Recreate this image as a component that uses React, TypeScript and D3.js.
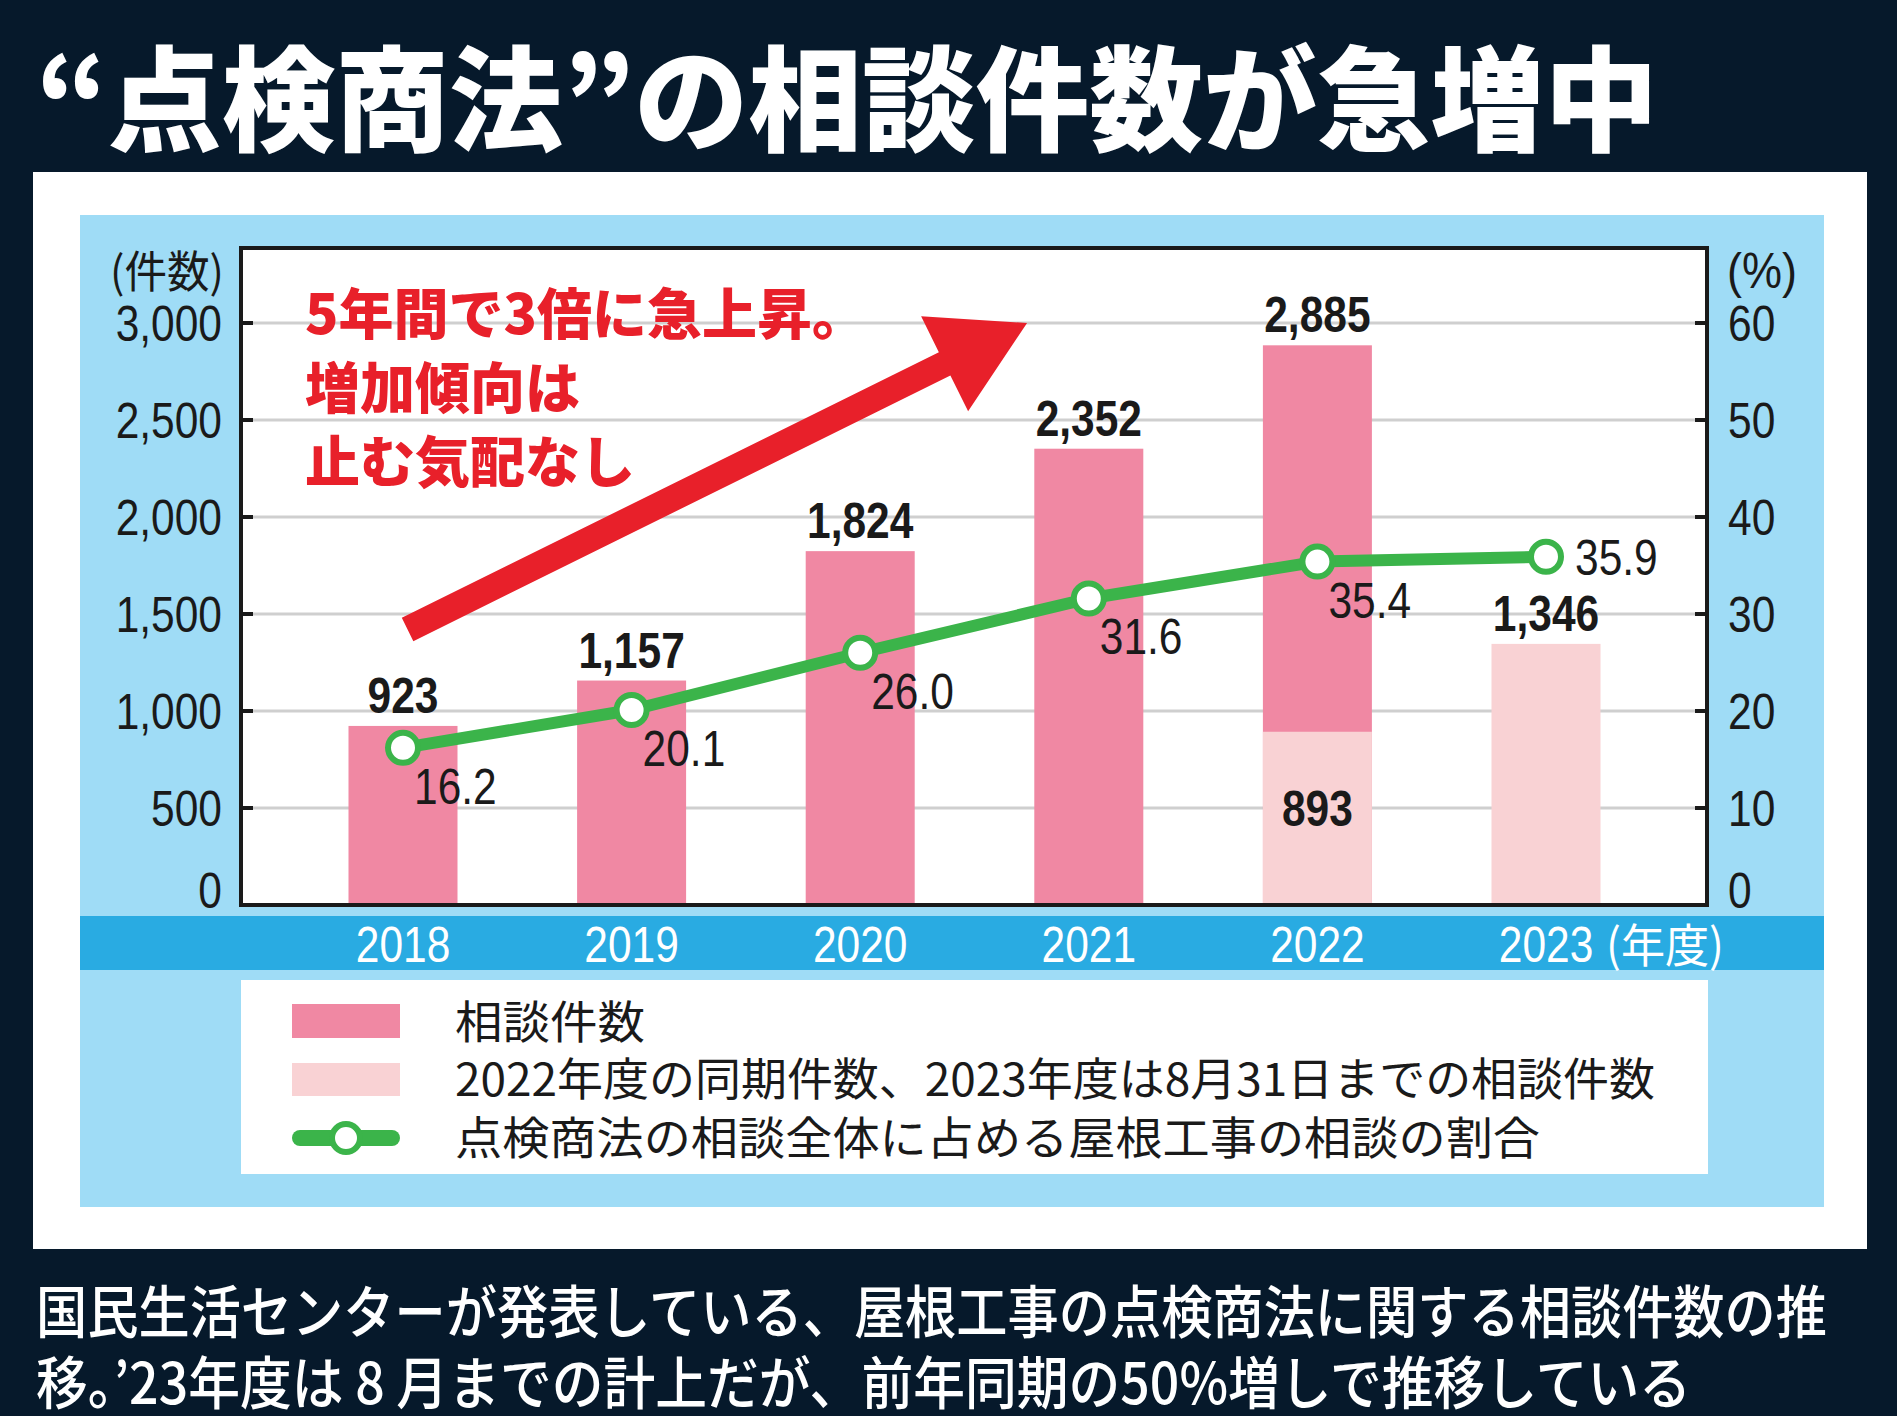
import React from 'react';
import * as d3 from 'd3';

const years = ['2018', '2019', '2020', '2021', '2022', '2023'];
const totalCounts: (number | null)[] = [923, 1157, 1824, 2352, 2885, null];
const partialCounts: (number | null)[] = [null, null, null, null, 893, 1346];
const shares = [16.2, 20.1, 26.0, 31.6, 35.4, 35.9];
const leftTicks = [0, 500, 1000, 1500, 2000, 2500, 3000];
const rightTicks = [0, 10, 20, 30, 40, 50, 60];
const title = '“点検商法”の相談件数が急増中';
const redLines = ['5年間で3倍に急上昇。', '増加傾向は', '止む気配なし'];
const legendLabels = ['相談件数', '2022年度の同期件数、2023年度は8月31日までの相談件数', '点検商法の相談全体に占める屋根工事の相談の割合'];
const footLines = ['国民生活センターが発表している、屋根工事の点検商法に関する相談件数の推', '移。’23年度は 8 月までの計上だが、前年同期の50%増しで推移している'];
// arrow annotation in data space: [category index, count]
const arrowFrom = [0.02, 1420];
const arrowTo = [2.73, 3000];

const W = 1897, H = 1416;
const NAVY = '#06192b';
const PINK = '#f088a3';
const LPINK = '#f9d2d4';
const GREEN = '#3bb44a';
const LBLUE = '#9fdcf6';
const BAND = '#29abe2';
const RED = '#e8202a';
const NUM = "'Liberation Sans', Arial, Helvetica, sans-serif";
const JP = "'Noto Sans CJK JP', 'Noto Sans CJK SC', sans-serif";

const plot = { left: 241, right: 1707, top: 248, bottom: 905 };

function CText(props: any) {
  const { x, y, sx = 0.85, children, ...rest } = props;
  return (
    <text transform={`translate(${x},${y}) scale(${sx},1)`} {...rest}>
      {children}
    </text>
  );
}

export default function App() {
  const x = d3.scalePoint<string>().domain(years).range([403, 1546]);
  const step = x.step();
  const y = d3.scaleLinear().domain([0, 3000]).range([905, 323]);
  const yR = d3.scaleLinear().domain([0, 60]).range([905, 323]);
  const barW = 109;
  const xi = (i: number) => (x(years[0]) as number) + i * step;

  const line = d3
    .line<number>()
    .x((_, i) => x(years[i]) as number)
    .y((d) => yR(d));

  // arrow polygon
  const ax0 = xi(arrowFrom[0]), ay0 = y(arrowFrom[1]);
  const ax1 = xi(arrowTo[0]), ay1 = y(arrowTo[1]);
  const dx = ax1 - ax0, dy = ay1 - ay0;
  const len = Math.hypot(dx, dy);
  const ux = dx / len, uy = dy / len;
  const nx = -uy, ny = ux;
  const sw = 13, hw = 53, hl = 92;
  const neckX = ax1 - ux * hl, neckY = ay1 - uy * hl;
  const arrowPts = [
    [ax0 + nx * sw, ay0 + ny * sw],
    [neckX + nx * sw, neckY + ny * sw],
    [neckX + nx * hw, neckY + ny * hw],
    [ax1, ay1],
    [neckX - nx * hw, neckY - ny * hw],
    [neckX - nx * sw, neckY - ny * sw],
    [ax0 - nx * sw, ay0 - ny * sw],
  ];

  return (
    <div style={{ position: 'absolute', left: 0, top: 0 }}>
      <svg width={W} height={H} style={{ display: 'block' }}>
        <rect x={0} y={0} width={W} height={H} fill={NAVY} />
        {/* title */}
        <text x={36} y={142} fill="#fff" fontFamily={JP} fontWeight={900} fontSize={114} textLength={1622} lengthAdjust="spacingAndGlyphs">
          {title}
        </text>
        {/* panels */}
        <rect x={33} y={172} width={1834} height={1077} fill="#fff" />
        <rect x={80} y={215} width={1744} height={992} fill={LBLUE} />
        <rect x={80} y={916} width={1744} height={54} fill={BAND} />
        <rect x={plot.left} y={plot.top} width={plot.right - plot.left} height={plot.bottom - plot.top} fill="#fff" />
        {/* grid */}
        {leftTicks.filter((t) => t > 0).map((t) => (
          <line key={t} x1={plot.left} x2={plot.right} y1={y(t)} y2={y(t)} stroke="#cfcfcf" strokeWidth={3} />
        ))}
        {/* bars */}
        {years.map((yr, i) => {
          const v = totalCounts[i];
          if (v == null) return null;
          return <rect key={'b' + yr} x={(x(yr) as number) - barW / 2} y={y(v)} width={barW} height={y(0) - y(v)} fill={PINK} />;
        })}
        {years.map((yr, i) => {
          const v = partialCounts[i];
          if (v == null) return null;
          return <rect key={'p' + yr} x={(x(yr) as number) - barW / 2} y={y(v)} width={barW} height={y(0) - y(v)} fill={LPINK} />;
        })}
        {/* ticks */}
        {leftTicks.filter((t) => t > 0).map((t) => (
          <g key={'t' + t}>
            <line x1={plot.left} x2={plot.left + 12} y1={y(t)} y2={y(t)} stroke="#1a1a1a" strokeWidth={4} />
            <line x1={plot.right - 12} x2={plot.right} y1={y(t)} y2={y(t)} stroke="#1a1a1a" strokeWidth={4} />
          </g>
        ))}
        {/* frame */}
        <rect x={plot.left} y={plot.top} width={plot.right - plot.left} height={plot.bottom - plot.top} fill="none" stroke="#1a1a1a" strokeWidth={4} />
        {/* red arrow */}
        <polygon points={arrowPts.map((p) => p.join(',')).join(' ')} fill={RED} />
        {/* red text */}
        {redLines.map((t, i) => (
          <text key={t} x={305} y={334 + i * 74} fill={RED} fontFamily={JP} fontWeight={900} fontSize={55}>
            {t}
          </text>
        ))}
        {/* line */}
        <path d={line(shares) as string} fill="none" stroke={GREEN} strokeWidth={12} strokeLinejoin="round" />
        {shares.map((s, i) => (
          <circle key={'c' + i} cx={x(years[i]) as number} cy={yR(s)} r={15} fill="#fff" stroke={GREEN} strokeWidth={6} />
        ))}
        {/* bar value labels */}
        {years.map((yr, i) => {
          const v = totalCounts[i] ?? partialCounts[i];
          if (v == null) return null;
          return (
            <CText key={'l' + yr} x={x(yr)} y={y(v) - 13} textAnchor="middle" fontFamily={NUM} fontWeight={700} fontSize={50} fill="#1a1a1a">
              {d3.format(',')(v)}
            </CText>
          );
        })}
        {years.map((yr, i) => {
          const v = partialCounts[i];
          if (v == null || totalCounts[i] == null) return null;
          return (
            <CText key={'pl' + yr} x={x(yr)} y={y(v / 2) + 8} textAnchor="middle" fontFamily={NUM} fontWeight={700} fontSize={50} fill="#1a1a1a">
              {d3.format(',')(v)}
            </CText>
          );
        })}
        {/* share labels */}
        {shares.map((s, i) => {
          const px = x(years[i]) as number;
          const py = yR(s);
          const last = i === shares.length - 1;
          return (
            <CText key={'s' + i} x={last ? px + 29 : px + 11} y={last ? py + 18 : py + 56} fontFamily={NUM} fontSize={50} fill="#1a1a1a">
              {s.toFixed(1)}
            </CText>
          );
        })}
        {/* left axis labels */}
        {leftTicks.map((t) => (
          <CText key={'ll' + t} x={222} y={Math.min(y(t) + 18, plot.bottom + 3)} textAnchor="end" fontFamily={NUM} fontSize={50} fill="#1a1a1a">
            {d3.format(',')(t)}
          </CText>
        ))}
        {rightTicks.map((t) => (
          <CText key={'rl' + t} x={1728} y={Math.min(yR(t) + 18, plot.bottom + 3)} fontFamily={NUM} fontSize={50} fill="#1a1a1a">
            {t}
          </CText>
        ))}
        <text x={110} y={288} fontFamily={JP} fontSize={44} fill="#1a1a1a" textLength={114} lengthAdjust="spacingAndGlyphs">
          (件数)
        </text>
        <CText x={1727} y={288} sx={0.9} fontFamily={NUM} fontSize={50} fill="#1a1a1a">
          (%)
        </CText>
        {/* x labels */}
        {years.map((yr) => (
          <CText key={'x' + yr} x={x(yr)} y={962} textAnchor="middle" fontFamily={NUM} fontSize={50} fill="#fff">
            {yr}
          </CText>
        ))}
        <text x={1606} y={962} fontFamily={JP} fontSize={46} fill="#fff" textLength={118} lengthAdjust="spacingAndGlyphs">
          (年度)
        </text>
        {/* legend */}
        <rect x={241} y={980} width={1467} height={194} fill="#fff" />
        <rect x={292} y={1004} width={108} height={34} fill={PINK} />
        <rect x={292} y={1063} width={108} height={33} fill={LPINK} />
        <line x1={300} x2={392} y1={1138} y2={1138} stroke={GREEN} strokeWidth={16} strokeLinecap="round" />
        <circle cx={346} cy={1138} r={14} fill="#fff" stroke={GREEN} strokeWidth={6} />
        <text x={455} y={1039} fontFamily={JP} fontSize={45} fill="#1a1a1a" textLength={190} lengthAdjust="spacingAndGlyphs">
          {legendLabels[0]}
        </text>
        <text x={455} y={1096} fontFamily={JP} fontSize={45} fill="#1a1a1a" textLength={1200} lengthAdjust="spacingAndGlyphs">
          {legendLabels[1]}
        </text>
        <text x={455} y={1155} fontFamily={JP} fontSize={45} fill="#1a1a1a" textLength={1085} lengthAdjust="spacingAndGlyphs">
          {legendLabels[2]}
        </text>
        {/* footnote */}
        <text x={36} y={1333} fontFamily={JP} fontWeight={500} fontSize={57} fill="#fff" textLength={1791} lengthAdjust="spacingAndGlyphs">
          {footLines[0]}
        </text>
        <text x={36} y={1404} fontFamily={JP} fontWeight={500} fontSize={57} fill="#fff" textLength={1655} lengthAdjust="spacingAndGlyphs">
          {footLines[1]}
        </text>
      </svg>
    </div>
  );
}
